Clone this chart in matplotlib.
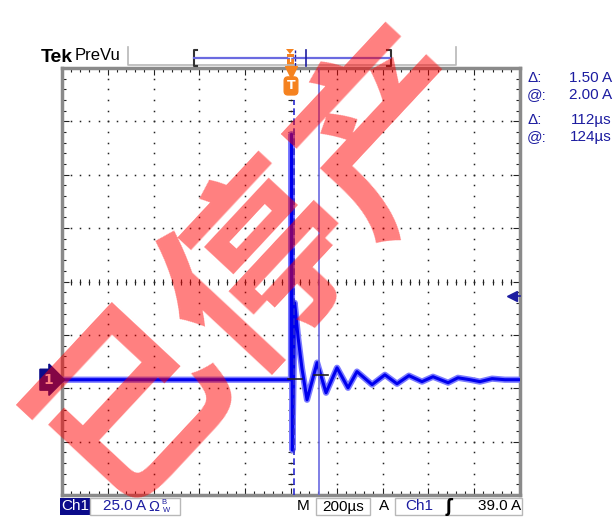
import numpy as np
import matplotlib.pyplot as plt
from matplotlib.patches import Rectangle, Polygon
from matplotlib.transforms import blended_transform_factory

# Ajustes del osciloscopio
TIME_PER_DIV = 200      # us/div
AMPS_PER_DIV = 25       # A/div
CENTER_LEVEL = 46       # A en el centro de pantalla (la masa de Ch1 queda por debajo)

# Traza Ch1 (tiempo en us respecto al disparo, corriente en A)
t_us = [-1000, -800, -600, -400, -200, -20, 0, 2, 6, 16, 31, 48, 70, 114, 153,
        201, 249, 288, 354, 410, 463, 515, 572, 620, 686, 729, 782, 825, 878, 934, 1000]
i_amp = [0, 0, 0, 0, 0, 0, 0, 115, -33, 36, 19.7, 5.2, -9.4, 8, -6.1,
         5.6, -3.8, 3.8, -2.3, 2.3, -1.9, 1.9, -0.9, 1.4, -1.4, 0.9, 0, -0.9, 0.5, 0, 0]

# Cursores de forma de onda
cursor_t = [12, 124]      # us
cursor_i = [0.5, 2.0]     # A
trigger_level = 39.0      # A

BLUE = '#0000ee'
DARK_BLUE = '#1c1ca0'
CURSOR_BLUE = '#6a6ae0'
ORANGE = '#f5821f'

fig = plt.figure(figsize=(6.15, 5.18), dpi=100)
W, H = 615, 518

ax = fig.add_axes([62 / W, 23 / H, 458 / W, 427 / H])
ax.set_xlim(-5 * TIME_PER_DIV, 5 * TIME_PER_DIV)
ax.set_ylim(CENTER_LEVEL - 4 * AMPS_PER_DIV, CENTER_LEVEL + 4 * AMPS_PER_DIV)

# Reticula punteada
minor_t = np.arange(-5 * TIME_PER_DIV, 5 * TIME_PER_DIV + 1, TIME_PER_DIV / 5)
minor_i = CENTER_LEVEL + np.arange(-20, 21) * AMPS_PER_DIV / 5
for k in range(-4, 5):
    ax.plot(np.full(len(minor_i), k * TIME_PER_DIV), minor_i, ls='none',
            marker='s', ms=1.1, color='#222222', mew=0)
for m in range(-3, 4):
    ax.plot(minor_t, np.full(len(minor_t), CENTER_LEVEL + m * AMPS_PER_DIV), ls='none',
            marker='s', ms=1.1, color='#222222', mew=0)
# marcas del eje central
ax.plot(minor_t, np.full(len(minor_t), CENTER_LEVEL), ls='none', marker='|', ms=4,
        color='#222222', mew=0.8)
ax.plot(np.zeros(len(minor_i)), minor_i, ls='none', marker='_', ms=4,
        color='#222222', mew=0.8)

ax.set_xticks(np.arange(-5, 6) * TIME_PER_DIV)
ax.set_xticks(minor_t, minor=True)
ax.set_yticks(CENTER_LEVEL + np.arange(-4, 5) * AMPS_PER_DIV)
ax.set_yticks(minor_i, minor=True)
ax.tick_params(which='both', direction='in', top=True, right=True,
               labelbottom=False, labelleft=False, color='#222222', width=0.8)
ax.tick_params(which='major', length=5)
ax.tick_params(which='minor', length=3)
for sp in ax.spines.values():
    sp.set_color('#8a8a8a')
    sp.set_linewidth(2.5)

# Traza
ax.plot(t_us, i_amp, color='#7a7aff', lw=4.5, zorder=4)
ax.plot(t_us, i_amp, color=BLUE, lw=2.2, zorder=5)

# Cursores
ax.axvline(cursor_t[0], ymax=0.925, color='#2a2ad0', lw=1.2, ls=(0, (4, 2)), zorder=6)
ax.axvline(cursor_t[1], color=CURSOR_BLUE, lw=1.2, zorder=6)
for ct, ci in zip(cursor_t, cursor_i):
    ax.plot([ct - 24, ct + 36], [ci, ci], color='#222222', lw=1.2, zorder=7)

# Marcador de masa Ch1
blend_y = blended_transform_factory(ax.transAxes, ax.transData)
ax.text(-0.03, 0, '1', transform=blend_y, color='white', fontsize=10, weight='bold',
        ha='center', va='center', clip_on=False, zorder=8,
        bbox=dict(boxstyle='rarrow,pad=0.25', fc='#0b0b8a', ec='#0b0b8a'))

# Nivel de disparo
ax.plot([0.983, 0.999], [trigger_level, trigger_level], transform=blend_y,
        color=DARK_BLUE, lw=1.2, clip_on=False, zorder=8)
ax.plot([0.983], [trigger_level], transform=blend_y, marker='<', ms=7,
        color=DARK_BLUE, clip_on=False, zorder=8)

# Posicion de disparo (T)
blend_x = blended_transform_factory(ax.transData, ax.transAxes)
ax.plot([0], [0.99], transform=blend_x, marker='v', ms=8, color=ORANGE,
        clip_on=False, zorder=8)
ax.text(0, 0.958, 'T', transform=blend_x, color='white', fontsize=9, weight='bold',
        ha='center', va='center', clip_on=False, zorder=8,
        bbox=dict(boxstyle='round,pad=0.2,rounding_size=0.3', fc=ORANGE, ec=ORANGE))

# Capa de interfaz (coordenadas de pantalla)
ov = fig.add_axes([0, 0, 1, 1])
ov.set_xlim(0, W)
ov.set_ylim(H, 0)
ov.axis('off')
ui = dict(family='Liberation Sans', va='center')

ov.text(41, 57, 'Tek', fontsize=14, weight='bold', color='black', **ui)
ov.text(75, 56, 'PreVu', fontsize=12, color='black', **ui)
ov.plot([128, 128, 456, 456], [47, 65, 65, 47], color='#b8b8b8', lw=1.2)
ov.plot([197, 193.5, 193.5, 197], [50, 50, 66, 66], color='#333333', lw=1.5)
ov.plot([387, 390.5, 390.5, 387], [50, 50, 66, 66], color='#333333', lw=1.5)
ov.plot([194, 390], [58, 58], color=CURSOR_BLUE, lw=1.6)
ov.plot([306, 306], [50, 66], color=DARK_BLUE, lw=1.2)
ov.plot([294.5, 294.5], [50, 66], color=DARK_BLUE, lw=1.0, ls=(0, (2, 1)))
ov.add_patch(Polygon([[286, 49], [294, 49], [290, 54]], closed=True, fc=ORANGE, ec='none'))
ov.add_patch(Rectangle((286.5, 54), 7, 12, fc=ORANGE, ec='none'))
ov.text(290, 60.5, 'T', fontsize=6, color='white', weight='bold', ha='center', **ui)

# Lecturas de cursor
dI = cursor_i[1] - cursor_i[0]
dT = cursor_t[1] - cursor_t[0]
readouts = [('Δ:', f'{dI:.2f} A', 78), ('@:', f'{cursor_i[1]:.2f} A', 95),
            ('Δ:', f'{dT:.0f}µs', 120), ('@:', f'{cursor_t[1]:.0f}µs', 137)]
for lab, val, y in readouts:
    ov.text(527, y, lab, fontsize=11, color=DARK_BLUE, **ui)
    ov.text(612, y, val, fontsize=11, color=DARK_BLUE, ha='right', **ui)

# Barra inferior
ov.add_patch(Rectangle((60, 498), 30, 17, fc='#0b0b8a', ec='none'))
ov.text(75, 506.5, 'Ch1', fontsize=11, color='white', ha='center', **ui)
ov.add_patch(Rectangle((90, 498), 90, 17, fill=False, ec='#b8b8b8', lw=1))
ov.text(146, 506.5, f'{AMPS_PER_DIV:.1f} A', fontsize=11, color=DARK_BLUE, ha='right', **ui)
ov.text(148, 507, 'Ω', fontsize=10.5, color=DARK_BLUE, **ui)
ov.text(161, 502, 'B', fontsize=5.5, color=DARK_BLUE, **ui)
ov.text(163, 510, 'W', fontsize=5.5, color=DARK_BLUE, **ui)
ov.text(303, 506.5, 'M', fontsize=11, color='black', ha='center', **ui)
ov.add_patch(Rectangle((316, 498), 54, 17, fill=False, ec='#b8b8b8', lw=1))
ov.text(343, 506.5, f'{TIME_PER_DIV}µs', fontsize=11, color='black', ha='center', **ui)
ov.text(384, 506.5, 'A', fontsize=11, color='black', ha='center', **ui)
ov.add_patch(Rectangle((395, 498), 127, 17, fill=False, ec='#b8b8b8', lw=1))
ov.text(405, 506.5, 'Ch1', fontsize=11, color=DARK_BLUE, **ui)
ov.text(449, 506.5, 'ʃ', fontsize=12, color='black', weight='bold', ha='center',
        family='DejaVu Sans', va='center')
ov.text(521, 506.5, f'{trigger_level:.1f} A', fontsize=11, color='black', ha='right', **ui)

# Marca de agua
fig.text(262 / W, 1 - 262 / H, '已停产', rotation=47, fontsize=136, color='red', alpha=0.5,
         ha='center', va='center', rotation_mode='anchor',
         family=['Noto Sans CJK SC'], weight='bold', zorder=20)

fig.savefig('out.png', dpi=100)
